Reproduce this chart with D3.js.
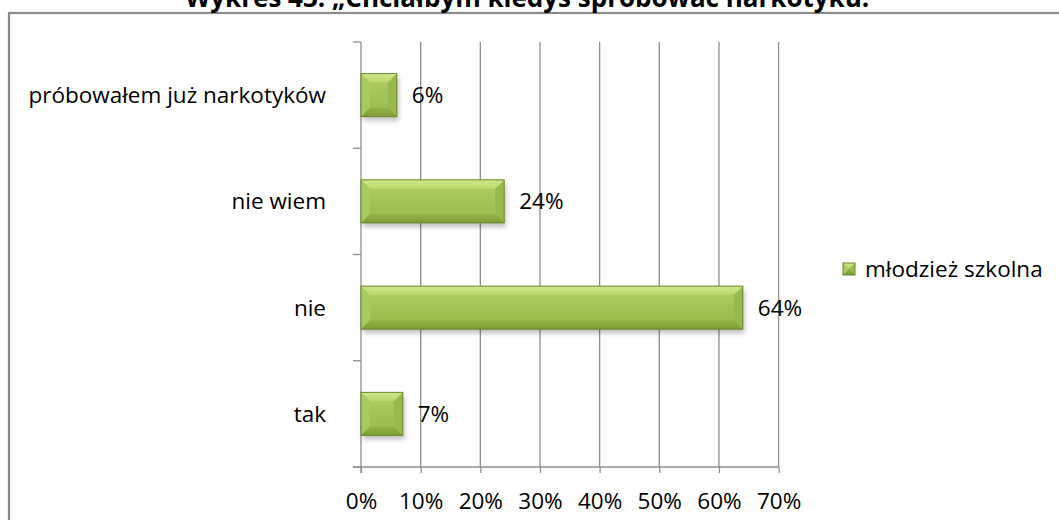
<!DOCTYPE html>
<html lang="pl">
<head>
<meta charset="utf-8">
<script src="https://cdn.jsdelivr.net/npm/d3@7"></script>
<style>
  html, body { margin: 0; padding: 0; background: #ffffff; overflow: hidden; }
  svg { display: block; }
  text { font-family: "Open Sans", "DejaVu Sans", sans-serif; fill: #000; }
</style>
</head>
<body>
<svg id="chart" width="1059" height="520"></svg>
<script>
// Survey answers, top to bottom as shown on the chart
const categories = ["próbowałem już narkotyków", "nie wiem", "nie", "tak"];
const values = [6, 24, 64, 7];              // percent of respondents
const xTicks = [0, 10, 20, 30, 40, 50, 60, 70];
const seriesName = "młodzież szkolna";
const chartTitle = "Wykres 43: „Chciałbym kiedyś spróbować narkotyku.”";

const svg = d3.select("#chart");
const FONT = "22.5px";

// plot area
const plotLeft = 361, plotRight = 778.6, plotTop = 42, plotBottom = 467;

const x = d3.scaleLinear().domain([0, 70]).range([plotLeft, plotRight]);
const y = d3.scaleBand().domain(categories).range([plotTop, plotBottom])
  .paddingInner(0.595).paddingOuter(0.2975);

const defs = svg.append("defs");

// bar body gradient
const g1 = defs.append("linearGradient").attr("id", "barBody")
  .attr("x1", 0).attr("y1", 0).attr("x2", 0).attr("y2", 1);
g1.append("stop").attr("offset", "0%").attr("stop-color", "#b3d26a");
g1.append("stop").attr("offset", "50%").attr("stop-color", "#a2c356");
g1.append("stop").attr("offset", "100%").attr("stop-color", "#97b94c");

// bevel gradients (top light, bottom dark)
const gTop = defs.append("linearGradient").attr("id", "bevelTop")
  .attr("x1", 0).attr("y1", 0).attr("x2", 0).attr("y2", 1);
gTop.append("stop").attr("offset", "0%").attr("stop-color", "#cfe88a");
gTop.append("stop").attr("offset", "100%").attr("stop-color", "#b9d76c");
const gBot = defs.append("linearGradient").attr("id", "bevelBottom")
  .attr("x1", 0).attr("y1", 0).attr("x2", 0).attr("y2", 1);
gBot.append("stop").attr("offset", "0%").attr("stop-color", "#93b449");
gBot.append("stop").attr("offset", "100%").attr("stop-color", "#7e9c37");

const shadow = defs.append("filter").attr("id", "shadow")
  .attr("x", "-10%").attr("y", "-20%").attr("width", "130%").attr("height", "160%");
shadow.append("feGaussianBlur").attr("stdDeviation", 2.5);

// outer frame
svg.append("rect")
  .attr("x", 9).attr("y", 13).attr("width", 1100).attr("height", 600)
  .attr("fill", "#fff").attr("stroke", "#8a8a8a").attr("stroke-width", 2.2);

// title, partly above the frame
svg.append("text")
  .attr("x", 533).attr("y", 7)
  .attr("text-anchor", "middle")
  .style("font-weight", "bold").style("font-size", "26px")
  .text(chartTitle);

// vertical gridlines
svg.append("g").selectAll("line")
  .data(xTicks.slice(1))
  .join("line")
  .attr("x1", d => x(d)).attr("x2", d => x(d))
  .attr("y1", plotTop).attr("y2", plotBottom)
  .attr("stroke", "#8e8e8e").attr("stroke-width", 1.3);

// x axis
const xAxis = d3.axisBottom(x).tickValues(xTicks)
  .tickFormat(d => d + "%").tickSize(6).tickPadding(20);
const gx = svg.append("g").attr("transform", `translate(0,${plotBottom})`).call(xAxis);
gx.select(".domain").remove();
gx.selectAll(".tick line").attr("stroke", "#8e8e8e").attr("stroke-width", 1.3);
gx.selectAll(".tick text").style("font-size", FONT).style("font-family", "'Open Sans', sans-serif").attr("fill", "#000");
svg.append("line").attr("x1", plotLeft - 8).attr("x2", plotRight).attr("y1", plotBottom).attr("y2", plotBottom)
  .attr("stroke", "#8e8e8e").attr("stroke-width", 1.3);

// y axis with ticks between categories
const yLine = svg.append("g");
yLine.append("line").attr("x1", plotLeft).attr("x2", plotLeft).attr("y1", plotTop).attr("y2", plotBottom + 6)
  .attr("stroke", "#8e8e8e").attr("stroke-width", 1.3);
const step = y.step();
const boundaries = d3.range(categories.length + 1).map(i => plotTop + i * step);
yLine.selectAll(".cat-tick").data(boundaries).join("line")
  .attr("class", "cat-tick")
  .attr("x1", plotLeft - 8).attr("x2", plotLeft).attr("y1", d => d).attr("y2", d => d)
  .attr("stroke", "#8e8e8e").attr("stroke-width", 1.3);

// category labels
svg.append("g").selectAll("text").data(categories).join("text")
  .attr("x", 326)
  .attr("y", d => y(d) + y.bandwidth() / 2)
  .attr("dy", "0.35em")
  .attr("text-anchor", "end")
  .style("font-size", FONT)
  .text(d => d);

// beveled bar drawing
function drawBar(g, x0, y0, w, h, withShadow) {
  const b = Math.min(9, w / 2, h / 2);
  if (withShadow) {
    g.append("rect").attr("x", x0 + 2).attr("y", y0 + 4).attr("width", w).attr("height", h)
      .attr("fill", "#000").attr("opacity", 0.25).attr("filter", "url(#shadow)");
  }
  g.append("rect").attr("x", x0).attr("y", y0).attr("width", w).attr("height", h)
    .attr("fill", "url(#barBody)");
  const x1 = x0 + w, y1 = y0 + h;
  // left bevel
  g.append("polygon").attr("points", [[x0, y0], [x0 + b, y0 + b], [x0 + b, y1 - b], [x0, y1]].join(" "))
    .attr("fill", "#a9ca5e");
  // right bevel
  g.append("polygon").attr("points", [[x1, y0], [x1 - b, y0 + b], [x1 - b, y1 - b], [x1, y1]].join(" "))
    .attr("fill", "#98b94d");
  // top bevel
  g.append("polygon").attr("points", [[x0, y0], [x1, y0], [x1 - b, y0 + b], [x0 + b, y0 + b]].join(" "))
    .attr("fill", "url(#bevelTop)");
  // bottom bevel
  g.append("polygon").attr("points", [[x0, y1], [x1, y1], [x1 - b, y1 - b], [x0 + b, y1 - b]].join(" "))
    .attr("fill", "url(#bevelBottom)");
  // outline
  g.append("rect").attr("x", x0).attr("y", y0).attr("width", w).attr("height", h)
    .attr("fill", "none").attr("stroke", "#6a882f").attr("stroke-width", 1);
}

const bars = svg.append("g");
categories.forEach((c, i) => {
  drawBar(bars, x(0), y(c), x(values[i]) - x(0), y.bandwidth(), true);
});

// value labels
svg.append("g").selectAll("text").data(categories).join("text")
  .attr("x", (d, i) => x(values[i]) + 15)
  .attr("y", d => y(d) + y.bandwidth() / 2)
  .attr("dy", "0.35em")
  .style("font-size", FONT)
  .text((d, i) => values[i] + "%");

// legend
const lg = svg.append("g").attr("transform", "translate(843,263)");
drawBar(lg, 0, 0, 12, 12, false);
lg.append("text").attr("x", 22).attr("y", 6).attr("dy", "0.35em")
  .style("font-size", FONT).text(seriesName);
</script>
</body>
</html>
